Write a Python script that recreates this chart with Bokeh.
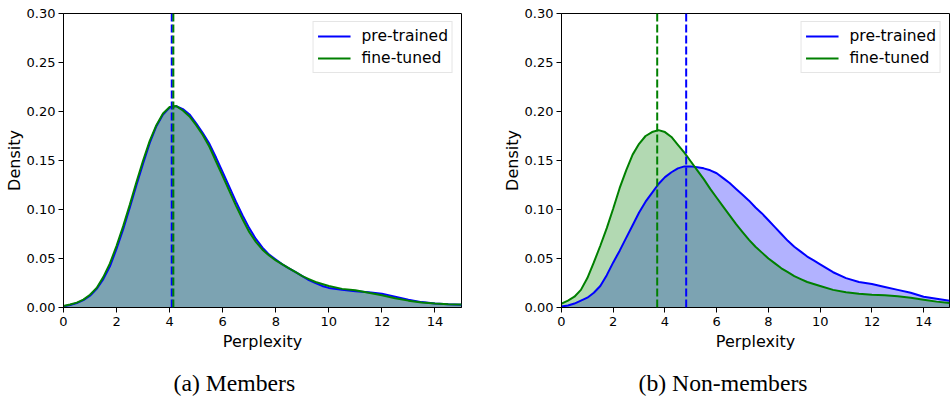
from bokeh.plotting import figure
from bokeh.models import Range1d, FixedTicker, PrintfTickFormatter, Span, Legend, LegendItem, Title
from bokeh.layouts import row
from bokeh.embed import file_html
from bokeh.resources import INLINE

# ---- data ----
perplexity = [0.0, 0.25, 0.5, 0.75, 1.0, 1.25, 1.5, 1.75, 2.0, 2.25, 2.5, 2.75, 3.0, 3.25, 3.5, 3.75,
              4.0, 4.25, 4.5, 4.75, 5.0, 5.25, 5.5, 5.75, 6.0, 6.25, 6.5, 6.75, 7.0, 7.25, 7.5, 7.75,
              8.0, 8.25, 8.5, 8.75, 9.0, 9.25, 9.5, 9.75, 10.0,
              10.5, 11.0, 11.5, 12.0, 12.5, 13.0, 13.5, 14.0, 14.5, 15.0]

members_pretrained = [0.0012, 0.0025, 0.0045, 0.0075, 0.012, 0.019, 0.029, 0.042, 0.060, 0.080,
                      0.102, 0.125, 0.147, 0.168, 0.185, 0.197, 0.204, 0.2055, 0.2025, 0.197,
                      0.188, 0.178, 0.167, 0.153, 0.138, 0.123, 0.108, 0.094, 0.081, 0.070,
                      0.061, 0.054, 0.049, 0.044, 0.040, 0.036, 0.032, 0.028, 0.025, 0.022, 0.020,
                      0.018, 0.0165, 0.0155, 0.014, 0.011, 0.008, 0.0055, 0.004, 0.0033, 0.0028]
members_finetuned = [0.0015, 0.003, 0.005, 0.008, 0.013, 0.020, 0.031, 0.045, 0.063, 0.083,
                     0.105, 0.128, 0.150, 0.170, 0.186, 0.198, 0.2045, 0.2055, 0.201, 0.195,
                     0.186, 0.176, 0.164, 0.149, 0.134, 0.119, 0.104, 0.090, 0.077, 0.067,
                     0.059, 0.053, 0.048, 0.044, 0.040, 0.036, 0.032, 0.029, 0.026, 0.024, 0.022,
                     0.019, 0.0175, 0.015, 0.0125, 0.0095, 0.007, 0.005, 0.004, 0.0033, 0.003]

nonmembers_pretrained = [0.001, 0.002, 0.004, 0.007, 0.010, 0.015, 0.022, 0.033, 0.046, 0.058,
                         0.071, 0.084, 0.097, 0.108, 0.117, 0.126, 0.133, 0.138, 0.142, 0.144,
                         0.144, 0.143, 0.142, 0.140, 0.137, 0.132, 0.127, 0.121, 0.115, 0.109,
                         0.102, 0.096, 0.089, 0.082, 0.075, 0.068, 0.062, 0.057, 0.052, 0.048, 0.044,
                         0.036, 0.030, 0.026, 0.024, 0.021, 0.018, 0.015, 0.011, 0.009, 0.007]
nonmembers_finetuned = [0.004, 0.007, 0.011, 0.018, 0.030, 0.046, 0.063, 0.081, 0.101, 0.122,
                        0.140, 0.156, 0.167, 0.175, 0.179, 0.181, 0.179, 0.174, 0.166, 0.158,
                        0.149, 0.140, 0.131, 0.121, 0.112, 0.103, 0.094, 0.085, 0.077, 0.069,
                        0.062, 0.056, 0.050, 0.045, 0.040, 0.036, 0.032, 0.029, 0.026, 0.024, 0.022,
                        0.018, 0.0155, 0.014, 0.013, 0.0125, 0.0115, 0.010, 0.008, 0.006, 0.0045]

members_mode_pretrained = 4.08
members_mode_finetuned = 4.14
nonmembers_mode_pretrained = 4.82
nonmembers_mode_finetuned = 3.70

x_ticks = [0, 2, 4, 6, 8, 10, 12, 14]
y_ticks = [0.0, 0.05, 0.10, 0.15, 0.20, 0.25, 0.30]
series_labels = ["pre-trained", "fine-tuned"]
captions = ["(a) Members", "(b) Non-members"]

BLUE = "#0000ff"
GREEN = "#008000"
SANS = "DejaVu Sans"
SERIF = "Liberation Serif"


def make_panel(pre, fine, mode_pre, mode_fine, caption, border_left, frame_w, border_right, cap_offset):
    p = figure(frame_width=frame_w, frame_height=294,
               min_border_left=border_left, min_border_right=border_right,
               min_border_top=13, min_border_bottom=89,
               x_range=Range1d(0, 15), y_range=Range1d(0, 0.30),
               output_backend="svg", toolbar_location=None,
               background_fill_color="white", border_fill_color="white")
    p.xgrid.visible = False
    p.ygrid.visible = False
    p.outline_line_color = "black"
    p.outline_line_width = 1
    p.outline_line_alpha = 1

    p.varea(x=perplexity, y1=0, y2=pre, fill_color=BLUE, fill_alpha=0.3)
    p.varea(x=perplexity, y1=0, y2=fine, fill_color=GREEN, fill_alpha=0.3)
    lb = p.line(perplexity, pre, line_color=BLUE, line_width=2)
    lg = p.line(perplexity, fine, line_color=GREEN, line_width=2)

    p.add_layout(Span(location=mode_pre, dimension="height", line_color=BLUE,
                      line_dash="8 3", line_width=2))
    p.add_layout(Span(location=mode_fine, dimension="height", line_color=GREEN,
                      line_dash="8 3", line_width=2))

    for ax in (p.xaxis[0], p.yaxis[0]):
        ax.axis_line_color = "black"
        ax.major_tick_line_color = "black"
        ax.major_tick_out = 5
        ax.major_tick_in = 0
        ax.minor_tick_line_color = None
        ax.major_label_text_font = SANS
        ax.major_label_text_font_size = "13px"
        ax.major_label_text_color = "black"
        ax.major_label_standoff = 4
        ax.axis_label_text_font = SANS
        ax.axis_label_text_font_size = "16px"
        ax.axis_label_text_font_style = "normal"
        ax.axis_label_text_color = "black"
    p.xaxis[0].axis_label_standoff = 3
    p.yaxis[0].axis_label_standoff = 0
    p.yaxis[0].major_label_standoff = 3
    p.xaxis[0].ticker = FixedTicker(ticks=x_ticks)
    p.yaxis[0].ticker = FixedTicker(ticks=y_ticks)
    p.yaxis[0].formatter = PrintfTickFormatter(format="%.2f")
    p.xaxis[0].axis_label = "Perplexity"
    p.yaxis[0].axis_label = "Density"

    legend = Legend(items=[LegendItem(label=series_labels[0], renderers=[lb]),
                           LegendItem(label=series_labels[1], renderers=[lg])],
                    location="top_right")
    legend.margin = 8
    legend.padding = 4
    legend.spacing = 2
    legend.glyph_width = 33
    legend.glyph_height = 20
    legend.label_height = 20
    legend.label_standoff = 11
    legend.label_text_font = SANS
    legend.label_text_font_size = "15.5px"
    legend.label_text_color = "black"
    legend.border_line_color = "#cccccc"
    legend.border_line_width = 1
    legend.background_fill_alpha = 0.8
    p.add_layout(legend)

    t = Title(text=caption, align="left", offset=cap_offset,
              text_font=SERIF, text_font_size="23.7px", text_font_style="normal",
              text_color="black", standoff=28)
    p.add_layout(t, "below")
    return p


p1 = make_panel(members_pretrained, members_finetuned,
                members_mode_pretrained, members_mode_finetuned,
                captions[0], 63, 398, 15, 110)
p2 = make_panel(nonmembers_pretrained, nonmembers_finetuned,
                nonmembers_mode_pretrained, nonmembers_mode_finetuned,
                captions[1], 85, 388, 2, 77)

layout = row(p1, p2)
open("out.html", "w").write(file_html(layout, INLINE))
